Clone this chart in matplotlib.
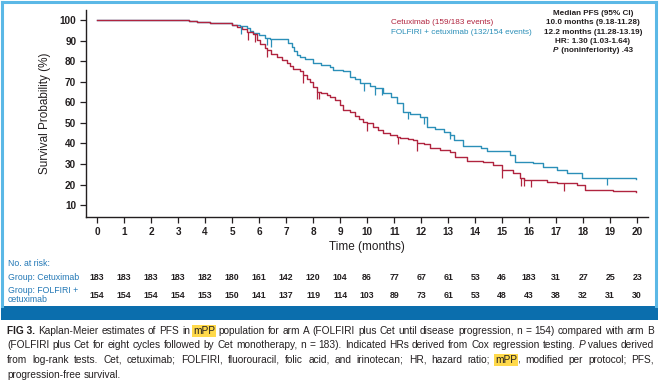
import matplotlib
matplotlib.use("Agg")
import matplotlib.pyplot as plt
from matplotlib import font_manager
import matplotlib.transforms as mtrans
from matplotlib.patches import Rectangle
import numpy as np

# ---------------- data ----------------
cet_t = [0, 3.4, 3.7, 4.2, 4.8, 5.0, 5.18, 5.35, 5.55, 5.78, 5.91, 6.05, 6.2, 6.28, 6.45, 6.65,
         6.85, 7.02, 7.15, 7.27, 7.5, 7.64, 7.78, 7.89, 8.0, 8.14, 8.3, 8.5, 8.63, 8.8, 9.0, 9.1,
         9.37, 9.55, 9.7, 9.86, 9.98, 10.2, 10.4, 10.6, 10.85, 11.1, 11.22, 11.5, 11.7, 11.84, 12.1,
         12.33, 12.7, 13.07, 13.26, 13.69, 14.3, 14.67, 14.99, 15.4, 15.67, 15.8, 16.5, 16.65,
         17.03, 17.77, 18.07, 19.1, 19.95]
cet_s = [100, 99.6, 99.2, 98.8, 98.4, 97.4, 96.8, 95.5, 94.0, 93.0, 90.3, 88.5, 86.5, 85.4, 83.5, 82.2,
         80.5, 79.0, 77.5, 76.0, 75.0, 73.2, 71.5, 70.0, 67.5, 65.1, 64.3, 63.5, 62.7, 61.0, 58.7, 56.2,
         55.4, 53.5, 52.0, 50.5, 49.8, 48.0, 46.5, 44.9, 44.0, 43.3, 42.5, 42.0, 41.6, 40.0, 39.5,
         37.6, 37.0, 36.0, 33.5, 31.6, 31.0, 29.5, 27.0, 25.4, 23.0, 22.2, 22.2, 21.4,
         20.6, 19.7, 17.3, 16.8, 16.3]
cet_cens = [5.6, 5.85, 6.28, 7.64, 8.14, 8.23, 9.98, 11.16, 11.86, 15.01, 15.69, 15.79, 16.07, 17.3]

fol_t = [0, 3.4, 3.7, 4.2, 4.8, 5.0, 5.3, 5.54, 5.65, 5.78, 6.0, 6.2, 6.4, 7.08, 7.2, 7.3, 7.4,
         7.52, 7.7, 8.0, 8.3, 8.63, 8.75, 9.1, 9.37, 9.55, 9.74, 10.1, 10.3, 10.6, 10.9, 11.1,
         11.33, 11.6, 11.96, 12.21, 12.5, 12.83, 13.07, 13.2, 13.56, 14.2, 14.43, 15.3, 15.48,
         16.15, 16.53, 17.03, 17.4, 17.95, 19.95]
fol_s = [100, 99.6, 99.2, 98.8, 98.4, 97.8, 97.0, 96.2, 94.5, 93.5, 92.5, 91.5, 90.6, 89.0, 87.0, 85.0, 83.0,
         82.2, 81.0, 79.0, 78.0, 77.3, 75.7, 75.0, 72.4, 71.5, 69.2, 68.0, 67.0, 64.3, 62.5, 59.5,
         55.4, 54.5, 53.0, 48.1, 47.0, 45.7, 44.0, 41.6, 38.7, 37.6, 36.3, 34.3, 31.0,
         30.3, 28.6, 27.0, 25.4, 23.3, 22.9]
fol_cens = [5.32, 6.28, 6.44, 9.9, 10.3, 10.55, 11.5, 12.11, 13.05, 18.9]

months = list(range(0, 21))
risk_cet = [183, 183, 183, 183, 182, 180, 161, 142, 120, 104, 86, 77, 67, 61, 53, 46, 183, 31, 27, 25, 23]
risk_fol = [154, 154, 154, 154, 153, 150, 141, 137, 119, 114, 103, 89, 73, 61, 53, 48, 43, 38, 32, 31, 30]

yticks = [10, 20, 30, 40, 50, 60, 70, 80, 90, 100]
label_cet = "Cetuximab (159/183 events)"
label_fol = "FOLFIRI + cetuximab (132/154 events)"
stats_lines = ["Median PFS (95% CI)", "10.0 months (9.18-11.28)", "12.2 months (11.28-13.19)",
               "HR: 1.30 (1.03-1.64)"]
p_line = ("P", " (noninferiority) .43")

# ---------------- style ----------------
avail = {f.name for f in font_manager.fontManager.ttflist}
FONT = "Liberation Sans Narrow" if "Liberation Sans Narrow" in avail else "Liberation Sans"
plt.rcParams['font.family'] = [FONT, 'DejaVu Sans']

RED = "#B0243F"
CYAN = "#2B8FB8"
BORDER = "#5BB8E6"
BAR = "#0B6EAD"
GROUPC = "#2378B6"
TXT = "#231F20"

W, H = 660, 387
fig = plt.figure(figsize=(W / 100, H / 100), dpi=100)
renderer = fig.canvas.get_renderer()

def fx(px):
    return px / W

def fy(py):
    return 1 - py / H

ax = fig.add_axes([fx(86), fy(217), fx(648 - 86), (217 - 10) / H])
ax.step(fol_t, fol_s, where='post', color=CYAN, lw=1.0)
ax.step(cet_t, cet_s, where='post', color=RED, lw=1.0)

def surv_at(ts, ss, t):
    idx = np.searchsorted(ts, t, side='right') - 1
    return ss[idx]

for c in cet_cens:
    s = surv_at(cet_t, cet_s, c)
    ax.vlines(c, s - 3.6, s, color=RED, lw=0.9)
for c in fol_cens:
    s = surv_at(fol_t, fol_s, c)
    ax.vlines(c, s - 3.6, s, color=CYAN, lw=0.9)

ax.set_xlim(-0.41, 20.4)
ax.set_ylim(4.2, 104.9)
ax.set_xticks(months)
ax.set_yticks(yticks)
ax.tick_params(axis='both', direction='out', length=4, width=0.9, color=TXT,
               labelsize=7.2, labelcolor=TXT, pad=3)
for lab in ax.get_xticklabels() + ax.get_yticklabels():
    lab.set_fontweight('bold')
for s in ['top', 'right']:
    ax.spines[s].set_visible(False)
for s in ['left', 'bottom']:
    ax.spines[s].set_linewidth(1.0)
    ax.spines[s].set_color(TXT)
ax.set_ylabel("Survival Probability (%)", fontsize=8.5, color=TXT, labelpad=6)

# legend text
fig.text(fx(391), fy(22.7), label_cet, color=RED, fontsize=5.9, va='center', ha='left')
fig.text(fx(391), fy(32.3), label_fol, color=CYAN, fontsize=5.9, va='center', ha='left')
ys = [13.3, 22.7, 32.3, 41.7]
SFS = 5.9
for line, y in zip(stats_lines, ys):
    fig.text(fx(593), fy(y), line, color=TXT, fontsize=SFS, va='center', ha='center',
             fontweight='bold')
tp = fig.text(0, fy(51), p_line[0], color=TXT, fontsize=SFS, va='center', ha='left',
              fontstyle='italic', fontweight='bold')
tr_ = fig.text(0, fy(51), p_line[1], color=TXT, fontsize=SFS, va='center', ha='left',
               fontweight='bold')
w1 = tp.get_window_extent(renderer).width
w2 = tr_.get_window_extent(renderer).width
start = 593 - (w1 + w2) / 2
tp.set_x(fx(start))
tr_.set_x(fx(start + w1))

# x label
fig.text(fx(367), fy(247), "Time (months)", fontsize=8.5, color=TXT, ha='center', va='center')

# at risk table
RFS = 6.3
fig.text(fx(8), fy(263), "No. at risk:", fontsize=RFS, color=GROUPC, va='center')
fig.text(fx(8), fy(277), "Group: Cetuximab", fontsize=RFS, color=GROUPC, va='center')
fig.text(fx(8), fy(290.5), "Group: FOLFIRI +", fontsize=RFS, color=GROUPC, va='center')
fig.text(fx(8), fy(300), "cetuximab", fontsize=RFS, color=GROUPC, va='center')
tr = mtrans.blended_transform_factory(ax.transData, fig.transFigure)
for m, a, b in zip(months, risk_cet, risk_fol):
    fig.text(m, fy(277), str(a), transform=tr, fontsize=RFS, color=TXT, ha='center', va='center',
             fontweight='bold')
    fig.text(m, fy(295), str(b), transform=tr, fontsize=RFS, color=TXT, ha='center', va='center',
             fontweight='bold')

# border and bar
for xs, ysl in [([1.5, 1.5], [306, 1.5]), ([656, 656], [306, 1.5]), ([1.5, 656], [1.5, 1.5])]:
    fig.add_artist(plt.Line2D([fx(v) for v in xs], [fy(v) for v in ysl], color=BORDER, lw=2.2,
                              transform=fig.transFigure))
fig.add_artist(Rectangle((fx(0.5), fy(319.5)), fx(657), (319.5 - 305.5) / H,
                         transform=fig.transFigure, facecolor=BAR, edgecolor='none'))

# caption
HL = "#FFD94A"
cap_lines = [
    [[("FIG 3.", 'b')], [("Kaplan-Meier", '')], [("estimates", '')], [("of", '')], [("PFS", '')],
     [("in", '')], [("mPP", 'h')], [("population", '')], [("for", '')], [("arm", '')], [("A", '')],
     [("(FOLFIRI", '')], [("plus", '')], [("Cet", '')], [("until", '')], [("disease", '')],
     [("progression,", '')], [("n", '')], [("=", '')], [("154)", '')], [("compared", '')],
     [("with", '')], [("arm", '')], [("B", '')]],
    [[("(FOLFIRI", '')], [("plus", '')], [("Cet", '')], [("for", '')], [("eight", '')], [("cycles", '')],
     [("followed", '')], [("by", '')], [("Cet", '')], [("monotherapy,", '')], [("n", '')], [("=", '')],
     [("183).", '')], [("Indicated", '')], [("HRs", '')], [("derived", '')], [("from", '')], [("Cox", '')],
     [("regression", '')], [("testing.", '')], [("P", 'i'), (" values", '')], [("derived", '')]],
    [[("from", '')], [("log-rank", '')], [("tests.", '')], [("Cet,", '')], [("cetuximab;", '')],
     [("FOLFIRI,", '')], [("fluorouracil,", '')], [("folic", '')], [("acid,", '')], [("and", '')],
     [("irinotecan;", '')], [("HR,", '')], [("hazard", '')], [("ratio;", '')], [("mPP", 'h'), (",", '')],
     [("modified", '')], [("per", '')], [("protocol;", '')], [("PFS,", '')]],
    [[("progression-free", '')], [("survival.", '')]],
]
cap_y = [331, 345.5, 360, 374.5]
CAPFS = 7.3
x0, x1 = 7, 654

def mk(x, y, s, st):
    kw = dict(fontsize=CAPFS, color=TXT, va='center', ha='left')
    if st == 'b':
        kw['fontweight'] = 'bold'
    if st == 'i':
        kw['fontstyle'] = 'italic'
    t = fig.text(fx(x), fy(y), s, **kw)
    if st == 'h':
        t.set_bbox(dict(facecolor=HL, edgecolor='none', pad=0.6))
    return t

def width_of(s, st):
    t = mk(0, 0, s, st)
    w = t.get_window_extent(renderer).width
    t.remove()
    return w

sw = width_of("a a", '') - width_of("aa", '')
for li, (words, y) in enumerate(zip(cap_lines, cap_y)):
    wlist = [sum(width_of(s, st) for s, st in word) for word in words]
    if li < 3:
        gap = (x1 - x0 - sum(wlist)) / (len(words) - 1)
    else:
        gap = sw
    x = x0
    for word, w in zip(words, wlist):
        xx = x
        for s, st in word:
            t = mk(xx, y, s, st)
            xx += t.get_window_extent(renderer).width
        x += w + gap

fig.savefig("out.png", dpi=100)
